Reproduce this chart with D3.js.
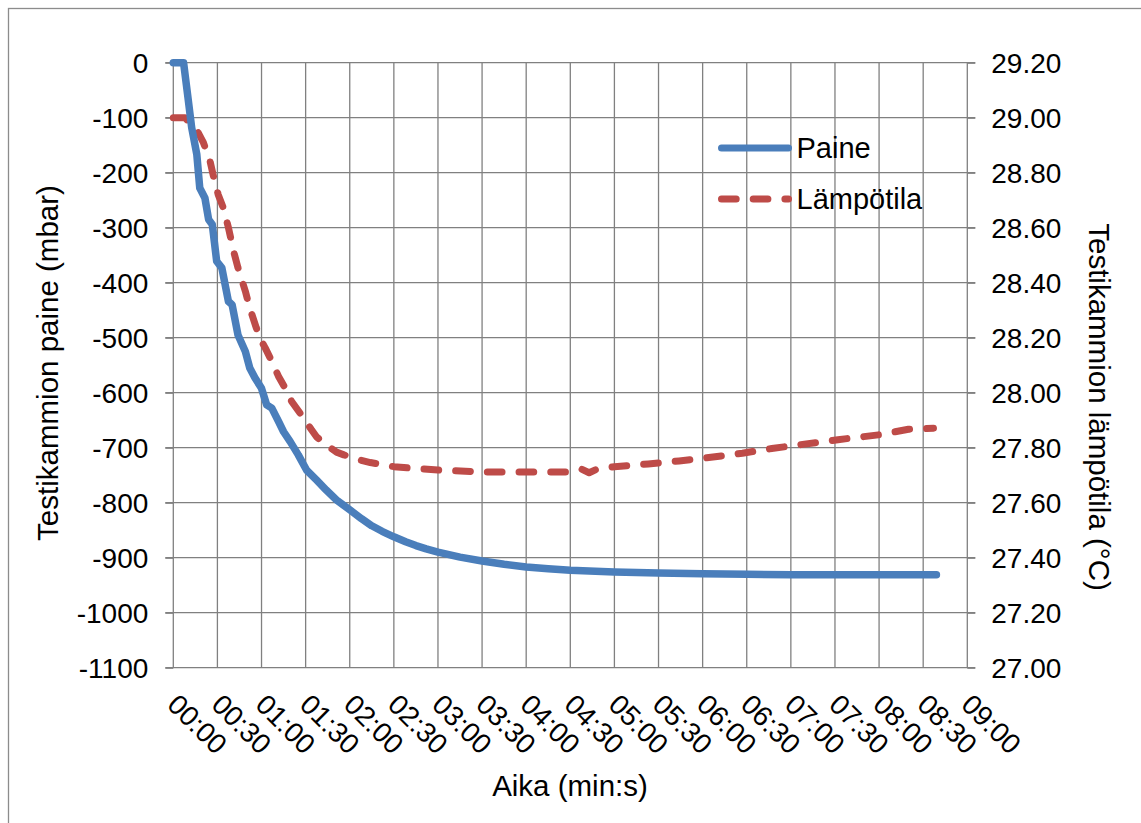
<!DOCTYPE html>
<html>
<head>
<meta charset="utf-8">
<script src="https://cdn.jsdelivr.net/npm/d3@7"></script>
<style>
  html, body { margin: 0; padding: 0; background: #fff; }
  svg { display: block; font-family: "Liberation Sans", Arial, sans-serif; }
</style>
</head>
<body>
<svg id="chart" width="1141" height="823"></svg>
<script>
// time in seconds, pressure in mbar
var paineTime = [0, 7, 10, 12.5, 16, 18, 21.5, 24, 26.5, 29.5, 33, 37.5, 40, 44, 49, 52, 55.5, 60, 63.5, 67,
    71.5, 75, 79.5, 85, 90.7, 97.5, 104, 111, 120, 128, 135, 142, 150, 158, 165, 172, 180, 195, 210, 225, 240, 255, 270, 300,
    330, 360, 390, 420, 450, 480, 519];
var paine = [0, 0, -64, -118, -167, -228, -246, -285, -294, -361, -373, -434, -440, -495, -525, -555, -573, -592, -622, -628,
    -652, -671, -689, -713, -741, -759, -777, -795, -813, -829, -842, -852, -862, -871, -878, -884, -890, -899, -906, -912, -917, -920, -923, -926,
    -928, -929, -930, -931, -931, -931, -931];

// time in seconds, temperature in °C
var lampoTime = [0, 8, 10, 17, 20.5, 25, 27, 30.5, 34, 37.5, 41, 44, 49, 52, 56.5, 60, 62.5, 67, 71.5, 76,
    80.5, 87, 94, 97.5, 104, 111, 116, 125, 134, 150, 165, 180, 210, 240, 270, 277.6, 282.8, 288, 300,
    323, 344, 365.6, 387, 407, 428, 452, 480, 500, 517];
var lampo = [29.0, 29.0, 28.988, 28.945, 28.909, 28.842, 28.794, 28.721, 28.672, 28.60, 28.515, 28.454, 28.369, 28.308, 28.235, 28.187, 28.163, 28.114, 28.06, 28.017,
    27.968, 27.92, 27.865, 27.839, 27.81, 27.784, 27.774, 27.758, 27.746, 27.731, 27.724, 27.719, 27.712, 27.712, 27.712, 27.722, 27.709, 27.722, 27.731,
    27.741, 27.752, 27.765, 27.78, 27.797, 27.812, 27.829, 27.847, 27.867, 27.871];

var timeTicks = d3.range(0, 541, 30);
var paineTicks = d3.range(0, -1101, -100);
var lampoTicks = d3.range(27.0, 29.21, 0.2);

var seriesNames = ['Paine', 'Lämpötila'];

var svg = d3.select('#chart');

// outer frame
svg.append('rect')
    .attr('x', 8.5).attr('y', 8.5)
    .attr('width', 1200).attr('height', 1000)
    .attr('fill', 'none')
    .attr('stroke', '#8c8c8c')
    .attr('stroke-width', 1.3);

var margin = {left: 173.3, top: 62.7},
    width = 794,
    height = 605;

var g = svg.append('g').attr('transform', 'translate(' + margin.left + ',' + margin.top + ')');

var x = d3.scaleLinear().domain([0, 540]).range([0, width]);
var yP = d3.scaleLinear().domain([-1100, 0]).range([height, 0]);
var yT = d3.scaleLinear().domain([27.0, 29.2]).range([height, 0]);

var gridColor = '#808080';

// grid
g.append('g').selectAll('line.h')
    .data(paineTicks)
    .enter().append('line')
    .attr('x1', -8).attr('x2', width + 8)
    .attr('y1', d => yP(d)).attr('y2', d => yP(d))
    .attr('stroke', gridColor).attr('stroke-width', 1.3);

g.append('g').selectAll('line.v')
    .data(timeTicks)
    .enter().append('line')
    .attr('x1', d => x(d)).attr('x2', d => x(d))
    .attr('y1', 0).attr('y2', height)
    .attr('stroke', gridColor).attr('stroke-width', 1.3);

// axes (labels only, grid drawn above)
var leftAxis = g.append('g')
    .call(d3.axisLeft(yP).tickValues(paineTicks).tickSize(8).tickPadding(17).tickFormat(d => String(d)));
var rightAxis = g.append('g')
    .attr('transform', 'translate(' + width + ',0)')
    .call(d3.axisRight(yT).tickValues(lampoTicks).tickSize(8).tickPadding(16).tickFormat(d3.format('.2f')));
var bottomAxis = g.append('g')
    .attr('transform', 'translate(0,' + height + ')')
    .call(d3.axisBottom(x).tickValues(timeTicks).tickSize(0)
        .tickFormat(d => d3.format('02')(Math.floor(d / 60)) + ':' + d3.format('02')(d % 60)));

[leftAxis, rightAxis, bottomAxis].forEach(a => {
    a.select('.domain').remove();
    a.selectAll('.tick line').attr('stroke', gridColor).attr('stroke-width', 1.3);
    a.selectAll('text').attr('fill', '#000').style('font-size', '28px').attr('dy', '0.35em');
});

bottomAxis.selectAll('text')
    .attr('x', 0).attr('y', 0).attr('dy', 0)
    .attr('text-anchor', 'start')
    .attr('transform', 'translate(-8,38.5) rotate(45)');

// series
var blue = '#4A7EBB', red = '#BE4B48';

var line = d3.line().x(d => x(d[0])).y(d => d[1]);

g.append('path')
    .datum(d3.zip(lampoTime, lampo.map(v => yT(v))))
    .attr('d', line)
    .attr('fill', 'none')
    .attr('stroke', red)
    .attr('stroke-width', 7)
    .attr('stroke-linecap', 'round')
    .attr('stroke-linejoin', 'round')
    .attr('stroke-dasharray', '14.7,17');

g.append('path')
    .datum(d3.zip(paineTime, paine.map(v => yP(v))))
    .attr('d', line)
    .attr('fill', 'none')
    .attr('stroke', blue)
    .attr('stroke-width', 7.5)
    .attr('stroke-linecap', 'round')
    .attr('stroke-linejoin', 'round');

// legend
var legend = svg.append('g').selectAll('g')
    .data(seriesNames)
    .enter().append('g')
    .attr('transform', (d, i) => 'translate(721.5,' + (148 + i * 51) + ')');

legend.append('line')
    .attr('x1', 0).attr('x2', 67)
    .attr('stroke', (d, i) => i === 0 ? blue : red)
    .attr('stroke-width', 7)
    .attr('stroke-linecap', 'round')
    .attr('stroke-dasharray', (d, i) => i === 0 ? null : '14.7,17');

legend.append('text')
    .attr('x', 75).attr('dy', '0.35em')
    .style('font-size', '29px')
    .text(d => d);

// axis titles
svg.append('text')
    .attr('x', 570).attr('y', 796)
    .attr('text-anchor', 'middle')
    .style('font-size', '29.5px')
    .text('Aika (min:s)');

svg.append('text')
    .attr('transform', 'translate(58,363) rotate(-90)')
    .attr('text-anchor', 'middle')
    .style('font-size', '29.5px')
    .text('Testikammion paine (mbar)');

svg.append('text')
    .attr('transform', 'translate(1089,407) rotate(90)')
    .attr('text-anchor', 'middle')
    .style('font-size', '29.5px')
    .text('Testikammion lämpötila (°C)');
</script>
</body>
</html>
